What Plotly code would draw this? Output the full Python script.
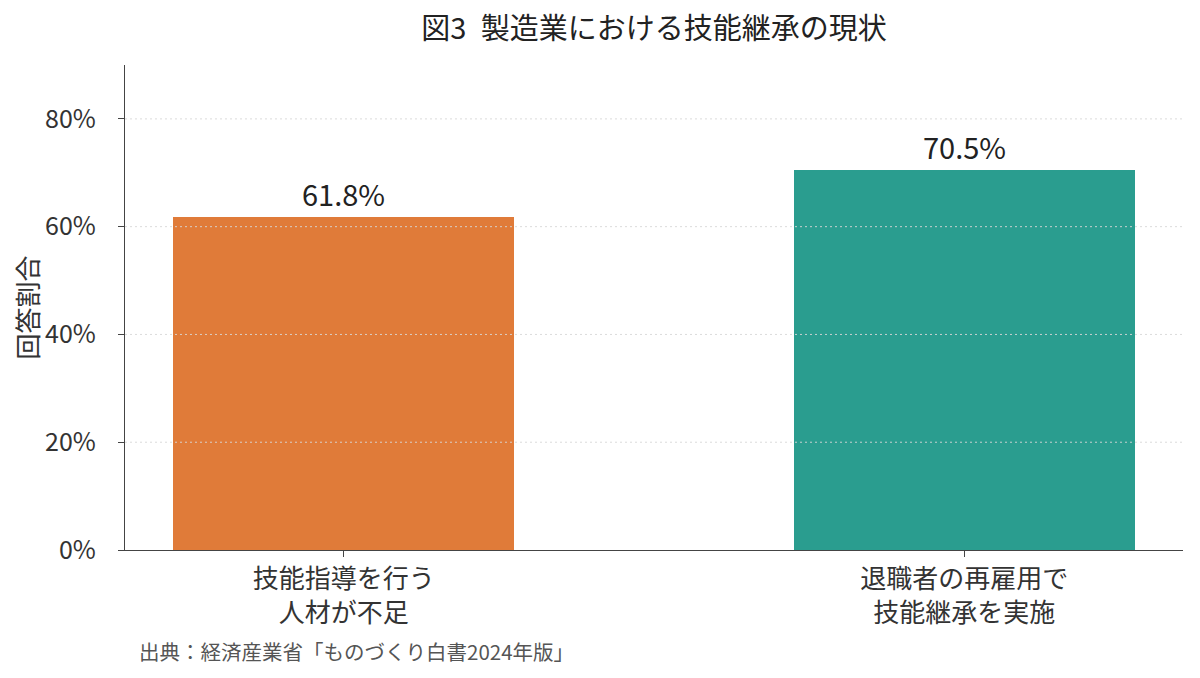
import plotly.graph_objects as go

categories = ["技能指導を行う<br>人材が不足", "退職者の再雇用で<br>技能継承を実施"]
values = [61.8, 70.5]
colors = ["#E07B39", "#2A9D8F"]
y_ticks = [0, 20, 40, 60, 80]
y_tick_labels = ["0%", "20%", "40%", "60%", "80%"]

FONT = "Noto Sans CJK JP"

fig = go.Figure()
fig.add_trace(go.Bar(
    x=[0, 1], y=values, width=0.55,
    marker=dict(color=colors, line=dict(width=0)),
    text=[f"{v:.1f}%" for v in values], textposition="outside",
    textfont=dict(size=29, color="#222", family=FONT),
    cliponaxis=False,
))

for t in y_ticks[1:]:
    fig.add_shape(type="line", xref="paper", x0=0, x1=1, yref="y", y0=t, y1=t,
                  line=dict(color="rgba(215,215,215,0.9)", width=1, dash="2px,3px"), layer="above")

L, T, PW, PH = 117, 57, 1058, 485
fig.update_layout(
    width=1200, height=678,
    paper_bgcolor="white", plot_bgcolor="white",
    margin=dict(l=L, r=1200 - L - PW, t=T, b=678 - T - PH),
    font=dict(family=FONT, color="#333"),
    title=dict(text="図3\u2002製造業における技能継承の現状", x=646 / 1200, xanchor="center",
               y=1 - 21 / 678, yanchor="middle", font=dict(size=29, color="#222", family=FONT)),
    showlegend=False,
    bargap=0,
)
fig.update_xaxes(
    range=[-0.3525, 1.3525], tickvals=[0, 1], ticktext=categories,
    showline=True, linecolor="#444", linewidth=1.3, ticks="outside", ticklen=6,
    tickcolor="#444", showgrid=False, zeroline=False,
    tickfont=dict(size=26, color="#333", family=FONT),
)
fig.update_yaxes(
    range=[0, 90], tickvals=y_ticks, ticktext=y_tick_labels,
    showline=True, linecolor="#444", linewidth=1.3, ticks="outside", ticklen=6,
    tickcolor="#444", showgrid=False, zeroline=False, ticklabelstandoff=17,
    tickfont=dict(size=25, color="#333", family=FONT),
    title=dict(text="回答割合", font=dict(size=26, color="#333", family=FONT), standoff=0),
)
fig.add_annotation(text="出典：経済産業省「ものづくり白書2024年版」", xref="paper", yref="paper",
                   x=(129 - L) / PW, y=-(643 - (T + PH)) / PH, xanchor="left", yanchor="middle",
                   showarrow=False, font=dict(size=20.5, color="#555", family=FONT))

fig.write_html("out.html")
